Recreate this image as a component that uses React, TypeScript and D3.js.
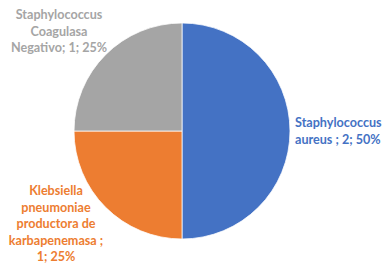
import { useEffect, useRef } from "react";
import * as d3 from "d3";

const categories = [
  "Staphylococcus aureus",
  "Klebsiella pneumoniae productora de karbapenemasa",
  "Staphylococcus Coagulasa Negativo",
];
const counts = [2, 1, 1];
const labelLines = [
  ["Staphylococcus", "aureus ; 2; 50%"],
  ["Klebsiella", "pneumoniae", "productora de", "karbapenemasa ;", "1; 25%"],
  ["Staphylococcus", "Coagulasa", "Negativo; 1; 25%"],
];
const colors = ["#4472C4", "#ED7D31", "#A5A5A5"];

// label anchor offsets from the pie centre (dx, dy of first line) and alignment
const labelLayout = [
  { dx: 113, dy: -8, anchor: "start" },
  { dx: -126, dy: 60, anchor: "middle" },
  { dx: -123, dy: -116, anchor: "middle" },
];

const App = () => {
  const svgRef = useRef<SVGSVGElement>(null);

  useEffect(() => {
    const width = 391;
    const height = 274;
    const cx = 182;
    const cy = 131;
    const radius = 108;
    const lineH = 16.5;

    const svg = d3.select(svgRef.current)
      .attr("width", width)
      .attr("height", height)
      .style("background", "#fff");
    svg.selectAll("*").remove();

    const data = categories.map((c, i) => ({ name: c, value: counts[i], i }));
    const pie = d3.pie<any>().sort(null).value((d) => d.value);
    const arc = d3.arc<any>().innerRadius(0).outerRadius(radius);

    const g = svg.append("g").attr("transform", `translate(${cx},${cy})`);
    g.selectAll("path")
      .data(pie(data))
      .join("path")
      .attr("d", arc)
      .attr("fill", (d) => colors[d.data.i])
      .attr("stroke", "#fff")
      .attr("stroke-width", 0.75);

    const labels = g.selectAll("text.lbl")
      .data(data)
      .join("text")
      .attr("class", "lbl")
      .attr("font-family", "Lato, 'Open Sans', sans-serif")
      .attr("font-weight", "bold")
      .attr("font-size", 12.6)
      .attr("fill", (d) => colors[d.i])
      .attr("text-anchor", (d) => labelLayout[d.i].anchor)
      .attr("transform", (d) => `translate(${labelLayout[d.i].dx},${labelLayout[d.i].dy})`);

    labels.selectAll("tspan")
      .data((d) => labelLines[d.i])
      .join("tspan")
      .attr("x", 0)
      .attr("y", (_, j) => j * lineH)
      .attr("dy", "0.35em")
      .text((t) => t);
  }, []);

  return (
    <div style={{ margin: -8 }}>
      <svg ref={svgRef} style={{ display: "block" }}></svg>
    </div>
  );
};

export default App;
